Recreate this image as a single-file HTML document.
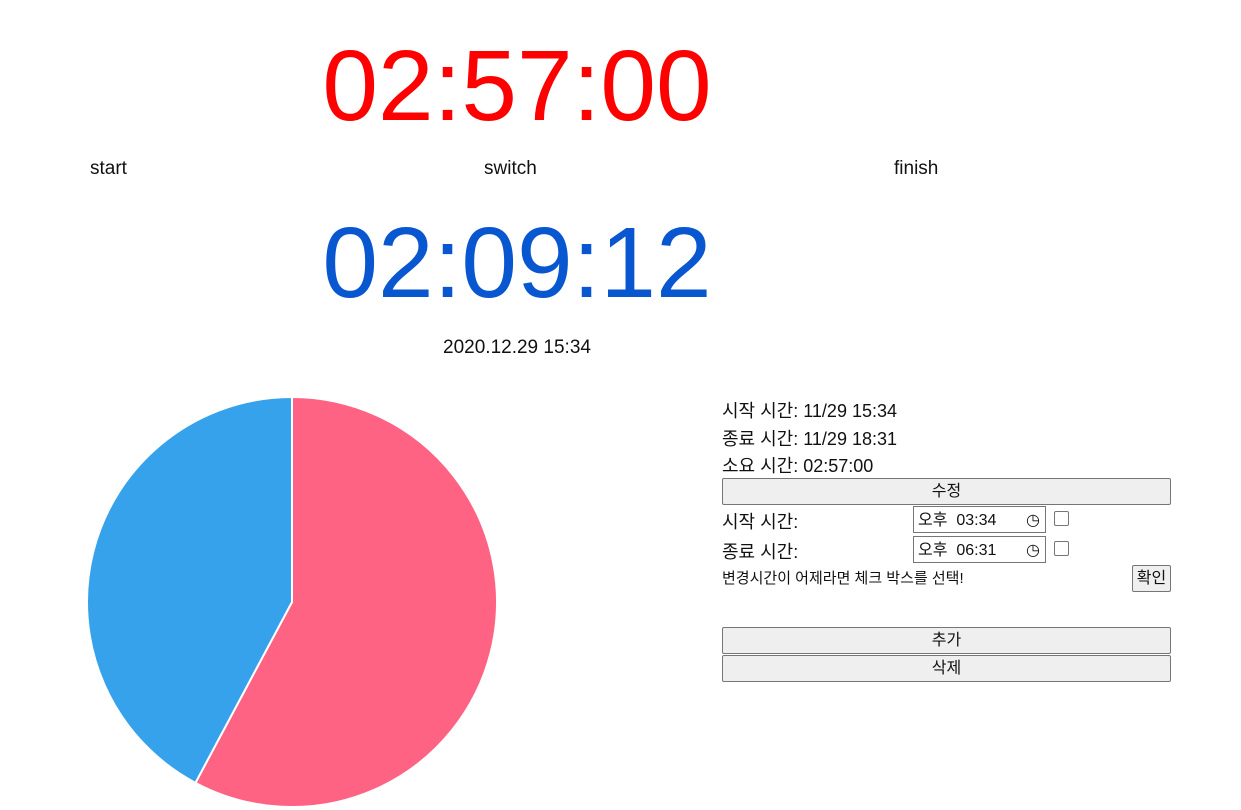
<!DOCTYPE html>
<html><head><meta charset="utf-8">
<style>
body{margin:0;width:1241px;height:810px;background:#fff;overflow:hidden;position:relative;font-family:"Liberation Sans","Noto Sans CJK KR",sans-serif;color:#111}
.a{position:absolute;white-space:nowrap}
.big{font-size:100px;line-height:1;left:0;width:1034px;text-align:center}
.btn{position:absolute;left:722px;width:447px;height:25px;background:#efefef;border:1px solid #767676;border-radius:2px;font-size:16px;text-align:center;line-height:25px;box-sizing:content-box}
.ti{position:absolute;left:913px;width:133px;height:27px;border:1px solid #767676;font-size:16px;line-height:27px;box-sizing:border-box;padding-left:4px}
.cb{position:absolute;left:1054px;width:13px;height:13px;border:1px solid #767676;border-radius:2px}
.lbl{font-size:18px}
</style></head><body>
<div class="a big" style="top:36px;color:#ff0000">02:57:00</div>
<div class="a" style="left:90px;top:158px;font-size:19px">start</div>
<div class="a" style="left:484px;top:158px;font-size:19px">switch</div>
<div class="a" style="left:894px;top:158px;font-size:19px">finish</div>
<div class="a big" style="top:213px;color:#0957d0">02:09:12</div>
<div class="a" style="left:0;width:1034px;text-align:center;top:337px;font-size:19px">2020.12.29 15:34</div>

<svg class="a" style="left:0;top:380px" width="600" height="430" id="pie"></svg>

<div class="a lbl" style="left:722px;top:397px">시작 시간: 11/29 15:34</div>
<div class="a lbl" style="left:722px;top:425px">종료 시간: 11/29 18:31</div>
<div class="a lbl" style="left:722px;top:452px">소요 시간: 02:57:00</div>
<div class="btn" style="top:478px">수정</div>
<div class="a lbl" style="left:722px;top:508px">시작 시간:</div>
<div class="ti" style="top:506px">오후 &nbsp;03:34 <span style="position:absolute;right:5px">◷</span></div>
<div class="cb" style="top:511px"></div>
<div class="a lbl" style="left:722px;top:538px">종료 시간:</div>
<div class="ti" style="top:536px">오후 &nbsp;06:31 <span style="position:absolute;right:5px">◷</span></div>
<div class="cb" style="top:541px"></div>
<div class="a" style="left:722px;top:567px;font-size:15px">변경시간이 어제라면 체크 박스를 선택!</div>
<div class="btn" style="left:1132px;width:37px;top:565px;font-size:16px">확인</div>
<div class="btn" style="top:627px">추가</div>
<div class="btn" style="top:655px">삭제</div>

<script>
const labels=["total","switch"];
const values=[177,129.2];
const colors=["#ff6384","#36a2eb"];
const svg=document.getElementById('pie');
const cx=292,cy=222,r=205;
const total=values.reduce((a,b)=>a+b,0);
let ang=0;
values.forEach((v,i)=>{
  const a0=ang,a1=ang+v/total*2*Math.PI;ang=a1;
  const x0=cx+r*Math.sin(a0),y0=cy-r*Math.cos(a0),x1=cx+r*Math.sin(a1),y1=cy-r*Math.cos(a1);
  const p=document.createElementNS('http://www.w3.org/2000/svg','path');
  p.setAttribute('d',`M${cx},${cy}L${x0},${y0}A${r},${r} 0 ${a1-a0>Math.PI?1:0} 1 ${x1},${y1}Z`);
  p.setAttribute('fill',colors[i]);p.setAttribute('stroke','#fff');p.setAttribute('stroke-width','2');
  
  
  svg.appendChild(p);
});
</script>
</body></html>
